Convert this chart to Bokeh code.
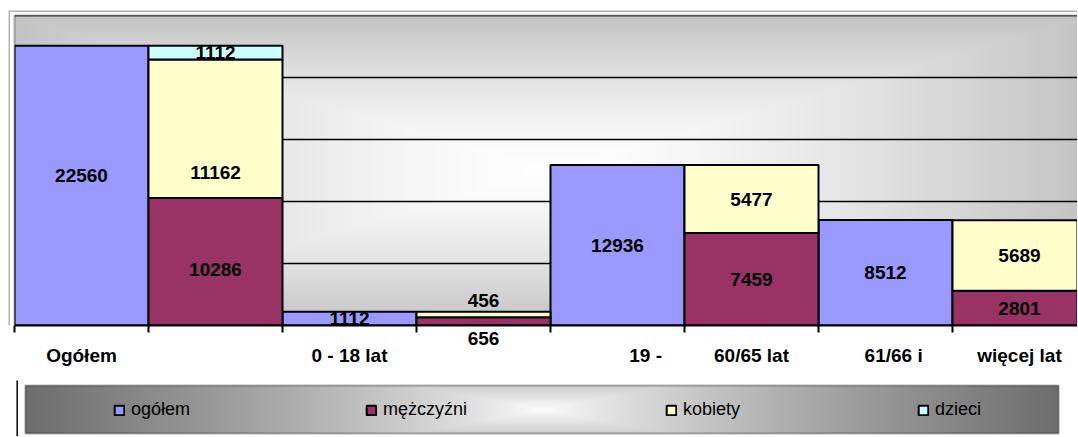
import numpy as np
from bokeh.plotting import figure
from bokeh.models import (ColumnDataSource, Range1d, FixedTicker, LabelSet, Legend,
                          LegendItem, Grid, LinearAxis, BoxAnnotation)
from bokeh.core.properties import value
from bokeh.layouts import column
from bokeh.embed import file_html
from bokeh.resources import INLINE

# ---------------- data ----------------
categories = ["Ogółem", "", "0 - 18 lat", "", "19  -", "60/65 lat", "61/66   i", "więcej lat"]
series_names = ["ogółem", "mężczyźni", "kobiety", "dzieci"]
ogolem    = [22560, 0, 1112, 0, 12936, 0, 8512, 0]
mezczyzni = [0, 10286, 0, 656, 0, 7459, 0, 2801]
kobiety   = [0, 11162, 0, 456, 0, 5477, 0, 5689]
dzieci    = [0, 1112, 0, 0, 0, 0, 0, 0]
y_ticks = [0, 5000, 10000, 15000, 20000, 25000]

# ---------------- style ----------------
colors = ["#9999FF", "#993366", "#FFFFCC", "#CCFFFF"]
FONT = "Liberation Sans"
BAR_PX = 134                          # width of one bar in px
TOTAL_W = 1077
MAIN_H = 380
FRAME_L, FRAME_T, FRAME_R, FRAME_B = 8, 10, TOTAL_W, 325   # outer chart frame (px)
AREA_L, AREA_T = 14, 15                # inner plot-area origin (px)
Y_MAX = y_ticks[-1]
PX_PER_Y = (FRAME_B - AREA_T) / Y_MAX
X_START = -(AREA_L - FRAME_L) / BAR_PX
X_END = (FRAME_R - AREA_L) / BAR_PX
Y_END = Y_MAX + (AREA_T - FRAME_T) / PX_PER_Y
# manual label nudges (px, positive = up), as in the original chart
label_nudge = {(0, 0): 10, (2, 1): -44, (1, 1): -8, (2, 3): 14}
below_axis_label = (1, 3)              # this value label sits under the axis
cat_shift = {4: 0.23, 6: 0.10}         # horizontal nudges of category labels

p = figure(width=TOTAL_W, height=MAIN_H,
           x_range=Range1d(X_START, X_END), y_range=Range1d(0, Y_END),
           output_backend="svg", toolbar_location=None, y_axis_location=None,
           min_border_left=FRAME_L, min_border_right=0,
           min_border_top=FRAME_T, min_border_bottom=MAIN_H - FRAME_B)
p.background_fill_color = "white"
p.border_fill_color = "white"
p.outline_line_color = None
p.xgrid.visible = False
p.ygrid.visible = False
g = Grid(dimension=1, ticker=FixedTicker(ticks=y_ticks), grid_line_color="black",
         grid_line_width=1.5, level="underlay")
try:
    g.cross_bounds = (0, X_END)
except AttributeError:
    pass
p.add_layout(g)

# plot-area gradient (rectangular "from centre")
W = FRAME_R - AREA_L
H = FRAME_B - AREA_T
xs = AREA_L + np.arange(W) + 0.5
ys = AREA_T + np.arange(H) + 0.5
X, Y = np.meshgrid(xs, ys)
d = np.maximum(np.abs(X - 551) / 536, np.abs(Y - 170) / 155)
v = np.clip(255 - 60 * d ** 1.4, 0, 255).astype(np.uint8)
img = np.empty((H, W), dtype=np.uint32)
view = img.view(dtype=np.uint8).reshape((H, W, 4))
view[..., 0] = v
view[..., 1] = v
view[..., 2] = v
view[..., 3] = 255
img = np.ascontiguousarray(img[::-1])
p.image_rgba(image=[img], x=0, y=0, dw=X_END, dh=Y_MAX, level="image")

# stacked bars
series = [ogolem, mezczyzni, kobiety, dzieci]
bottoms = np.zeros(len(categories))
lx, ly, lt, lo = [], [], [], []
below_tick = {}
for si, (vals, col) in enumerate(zip(series, colors)):
    vals = np.array(vals, dtype=float)
    idx = np.nonzero(vals > 0)[0]
    b = bottoms[idx]
    t = b + vals[idx]
    src = ColumnDataSource(dict(x=idx + 0.5, bottom=b, top=t))
    p.vbar(x="x", width=1, bottom="bottom", top="top", source=src,
           fill_color=col, line_color="black", line_width=2)
    for k, i in enumerate(idx):
        txt = str(int(vals[i]))
        if (si, int(i)) == below_axis_label:
            below_tick[float(i + 0.5)] = txt
            continue
        lx.append(i + 0.5)
        ly.append((b[k] + t[k]) / 2)
        lt.append(txt)
        lo.append(label_nudge.get((si, int(i)), 0))
    bottoms += vals

# white margin between outer frame and plot area, then the borders
p.add_layout(BoxAnnotation(left=X_START - 1, right=0, bottom=-Y_MAX, top=2 * Y_MAX,
                           fill_color="white", fill_alpha=1, line_color=None))
p.add_layout(BoxAnnotation(left=X_START - 1, right=X_END + 1, bottom=Y_MAX, top=2 * Y_MAX,
                           fill_color="white", fill_alpha=1, line_color=None))
p.add_layout(BoxAnnotation(left=0, bottom=0, top=Y_MAX, right=X_END + 1,
                           fill_alpha=0, line_color="black", line_width=2))
p.add_layout(BoxAnnotation(left=X_START, top=Y_END, right=X_END + 1, bottom=-Y_MAX,
                           fill_alpha=0, line_color="black", line_width=3))

lsrc = ColumnDataSource(dict(x=lx, y=ly, text=lt, yo=lo))
labels = LabelSet(x="x", y="y", text="text", y_offset="yo", source=lsrc,
                  text_align="center", text_baseline="middle",
                  text_font=value(FONT), text_font_style="bold", text_font_size="19px",
                  text_color="black")
p.add_layout(labels)

# x axis 1: axis line, tick marks at bar boundaries, the value label under the axis
ax = p.xaxis[0]
ax.ticker = FixedTicker(ticks=list(below_tick.keys()),
                        minor_ticks=list(range(len(categories) + 1)))
ax.bounds = (0, X_END)
ax.major_label_overrides = below_tick
ax.axis_line_color = "black"
ax.axis_line_width = 2
ax.major_tick_in = 0
ax.major_tick_out = 0
ax.minor_tick_in = 0
ax.minor_tick_out = 7
ax.minor_tick_line_color = "black"
ax.minor_tick_line_width = 2
ax.major_label_text_font = FONT
ax.major_label_text_font_style = "bold"
ax.major_label_text_font_size = "19px"
ax.major_label_text_color = "black"
ax.major_label_standoff = -1

# x axis 2: category labels
tick_pos = []
overrides = {}
for i, c in enumerate(categories):
    if c:
        pos = i + 0.5 + cat_shift.get(i, 0)
        tick_pos.append(pos)
        overrides[pos] = c
ax2 = LinearAxis(ticker=FixedTicker(ticks=tick_pos, minor_ticks=[]),
                 major_label_overrides=overrides,
                 axis_line_color=None, major_tick_line_color=None,
                 minor_tick_line_color=None, major_tick_in=0, major_tick_out=0,
                 minor_tick_in=0, minor_tick_out=0,
                 major_label_text_font=FONT, major_label_text_font_style="bold",
                 major_label_text_font_size="19px", major_label_text_color="black",
                 major_label_standoff=-3)
p.add_layout(ax2, "below")

# ---------------- legend strip (data units = px, y from strip bottom) ----------------
L2_H = 56                                   # y 380 .. 436
p2 = figure(width=TOTAL_W, height=L2_H, x_range=Range1d(0, TOTAL_W), y_range=Range1d(0, L2_H),
            x_axis_location=None, y_axis_location=None, output_backend="svg",
            toolbar_location=None, min_border_left=0, min_border_right=0,
            min_border_top=0, min_border_bottom=0)
p2.grid.visible = False
p2.outline_line_color = None
p2.background_fill_color = "white"
p2.border_fill_color = "white"
BOX_L, BOX_R, BOX_B, BOX_T = 17, 1058, 3, 51
H2, W2 = BOX_T - BOX_B, BOX_R - BOX_L
xs2 = BOX_L + np.arange(W2) + 0.5
ys2 = np.arange(H2) + 0.5
X2, Y2 = np.meshgrid(xs2, ys2)
d2 = np.maximum(np.abs(X2 - (BOX_L + BOX_R) / 2) / (W2 / 2),
                0.25 * np.abs(Y2 - H2 / 2) / (H2 / 2))
v2 = np.clip(255 - 145 * d2 ** 0.8, 0, 255).astype(np.uint8)
img2 = np.empty((H2, W2), dtype=np.uint32)
view2 = img2.view(dtype=np.uint8).reshape((H2, W2, 4))
view2[..., 0] = v2
view2[..., 1] = v2
view2[..., 2] = v2
view2[..., 3] = 255
p2.image_rgba(image=[img2], x=BOX_L, y=BOX_B, dw=W2, dh=H2, level="image")
p2.add_layout(BoxAnnotation(left=BOX_L, right=BOX_R, bottom=BOX_B, top=BOX_T,
                            fill_alpha=0, line_color="black", line_width=2))
p2.add_layout(BoxAnnotation(left=FRAME_L, right=FRAME_L + 1.5, bottom=-1, top=L2_H + 1,
                            fill_color="black", fill_alpha=1, line_color=None))

legend_x = [105, 357, 657, 909]
for name, col, lxp in zip(series_names, colors, legend_x):
    # proxy renderer (outside the visible range) that only supplies the legend swatch
    r = p2.quad(left=[-30], right=[-20], bottom=[-30], top=[-20], fill_color=col,
                line_color="black", line_width=2)
    leg = Legend(items=[LegendItem(label=name, renderers=[r])], location=(lxp, 16),
                 orientation="horizontal", glyph_width=12, glyph_height=12,
                 label_standoff=6, padding=0, margin=0, spacing=0,
                 border_line_color=None, background_fill_alpha=0,
                 label_text_font=FONT, label_text_font_size="18px",
                 label_text_color="black")
    p2.add_layout(leg)

layout = column(p, p2)

open("out.html", "w").write(file_html(layout, INLINE))
